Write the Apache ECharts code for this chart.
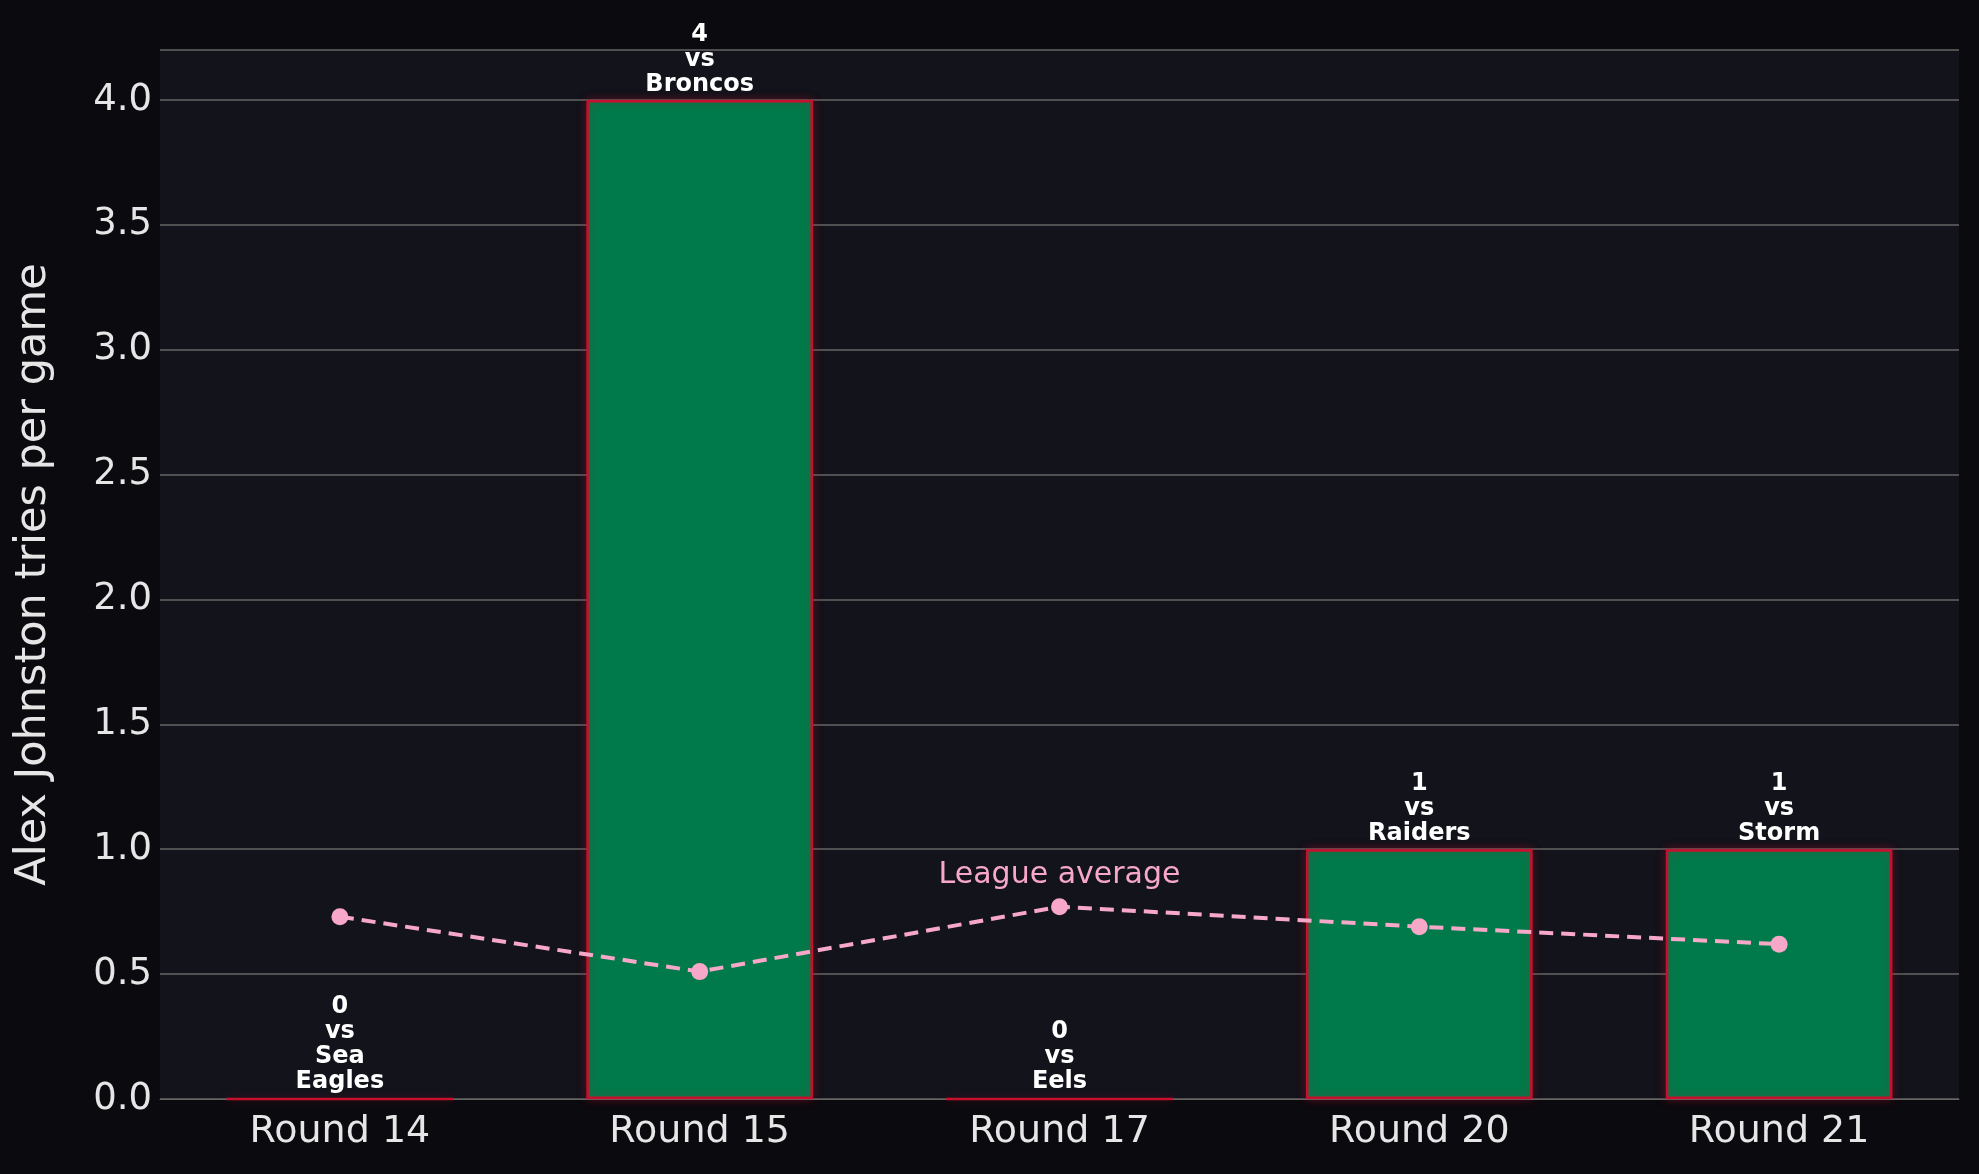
<!DOCTYPE html>
<html><head><meta charset="utf-8">
<script src="https://cdn.jsdelivr.net/npm/echarts@6/dist/echarts.min.js"></script>
<style>html,body{margin:0;background:#0b0b0f}#c{width:1979px;height:1174px}</style>
</head><body><div id="c"></div>
<script>
var rounds = ["Round 14","Round 15","Round 17","Round 20","Round 21"];
var tries = [0,4,0,1,1];
var opponents = ["Sea\nEagles","Broncos","Eels","Raiders","Storm"];
var leagueAvg = [0.73,0.51,0.77,0.69,0.62];

var chart = echarts.init(document.getElementById("c"));
var font = "DejaVu Sans";
chart.setOption({
  backgroundColor: "#0b0b0f",
  textStyle: {fontFamily: font},
  grid: {left: 160, right: 20, top: 50, bottom: 75, show: true, backgroundColor: "#12131b", borderWidth: 0},
  xAxis: {
    type: "category", data: rounds,
    axisLine: {lineStyle: {color: "#666"}}, axisTick: {show: false},
    axisLabel: {color: "#e6e6e6", fontSize: 38, margin: 14}
  },
  yAxis: {
    type: "value", min: 0, max: 4.2, interval: 0.5,
    name: "Alex Johnston tries per game", nameLocation: "middle", nameGap: 105,
    nameTextStyle: {color: "#e6e6e6", fontSize: 43},
    axisLabel: {color: "#e6e6e6", fontSize: 37, formatter: function(v){return v.toFixed(1);}, showMaxLabel: false},
    splitLine: {lineStyle: {color: "#666", width: 1.5}},
    axisLine: {show: false}, axisTick: {show: false}
  },
  series: [{
    type: "bar", data: tries, barWidth: "63%", z: 2,
    itemStyle: {color: "#007a4a", borderColor: "#c8102e", borderWidth: 2.5,
      shadowColor: "rgba(200,16,46,0.35)", shadowBlur: 10},
    label: {show: true, position: "top", distance: 3, color: "#ffffff", fontWeight: "bold",
      fontSize: 24, lineHeight: 25,
      formatter: function(p){return tries[p.dataIndex] + "\nvs\n" + opponents[p.dataIndex];}}
  },{
    type: "line", data: leagueAvg, z: 3,
    lineStyle: {color: "#f7a8c8", width: 4, type: [14, 8]},
    itemStyle: {color: "#f7a8c8"}, symbol: "circle", symbolSize: 17,
    label: {show: false},
    data: leagueAvg.map(function(v, i){
      return i === 2 ? {value: v, label: {show: true, position: "top", distance: 8,
        formatter: "League average", color: "#f7a8c8", fontSize: 30}} : v;
    })
  }]
});
</script></body></html>
